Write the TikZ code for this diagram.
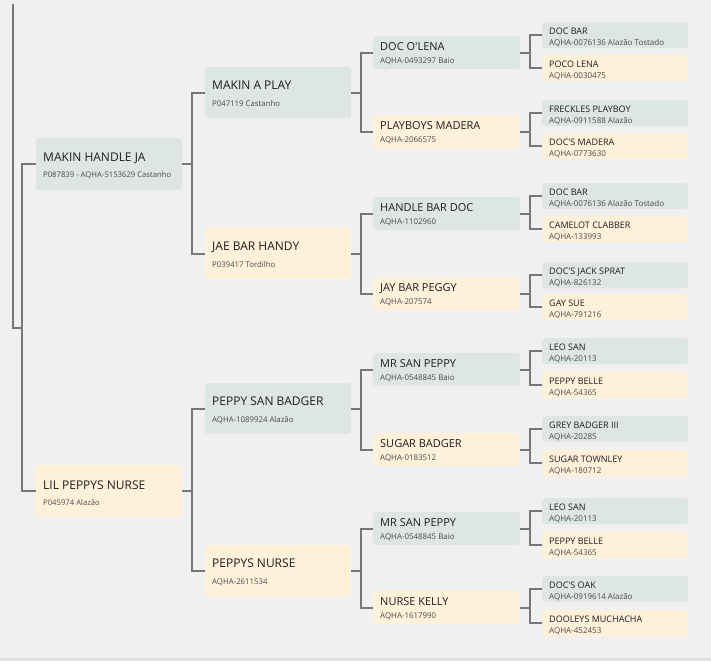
\documentclass[tikz,border=0pt]{standalone}
\usepackage{fontspec}
\setmainfont{Open Sans}
\usepackage{tikz}
\usetikzlibrary{calc}

\definecolor{sirefill}{HTML}{DDE6E0}
\definecolor{damfill}{HTML}{FFF0DA}
\definecolor{pagebg}{HTML}{F0F0F0}
\definecolor{linkgray}{HTML}{777777}
\definecolor{namegray}{HTML}{1E1E1E}
\definecolor{subgray}{HTML}{4A4A4A}

\newcommand{\horse}[2]{\namestrut#1\\{\color{subgray}\subsize\mbox{#2}}}

\begin{document}
\begin{tikzpicture}[x=1pt, y=-1pt,
        horse/.style={rectangle, rounded corners=3pt, anchor=north west, inner xsep=7pt, inner ysep=0pt, align=flush left, text=namegray},
        sire/.style={horse, fill=sirefill},
        dam/.style={horse, fill=damfill},
        gen1/.style={minimum width=146pt, minimum height=52pt, text width=132pt, font=\fontsize{12}{16}\selectfont\def\subsize{\fontsize{7.7}{9}\selectfont}\def\namestrut{\rule{0pt}{12.6pt}}},
        gen2/.style={minimum width=146pt, minimum height=51pt, text width=132pt, font=\fontsize{12}{17}\selectfont\def\subsize{\fontsize{7.8}{9}\selectfont}\def\namestrut{\rule{0pt}{11.6pt}}},
        gen3/.style={minimum width=147pt, minimum height=33pt, text width=133pt, font=\fontsize{11}{13}\selectfont\def\subsize{\fontsize{7.9}{9}\selectfont}\def\namestrut{\rule{0pt}{9.9pt}}},
        gen4/.style={minimum width=146pt, minimum height=26pt, text width=132pt, font=\fontsize{9}{11}\selectfont\def\subsize{\fontsize{8}{9}\selectfont}\def\namestrut{\rule{0pt}{10.4pt}}},
        link/.style={draw=linkgray, line width=2pt}
    ]
        \fill[pagebg] (0,0) rectangle (711,661);
        \fill[black!12] (0,658) rectangle (711,661);

        % generation 1
        \node[sire, gen1] (handleja) at (36,138) {\horse{MAKIN HANDLE JA}{P087839 - AQHA-5153629 Castanho}};
        \node[dam, gen1] (lilnurse) at (36,465) {\horse{LIL PEPPYS NURSE}{P045974 Alazão}};

        % generation 2
        \node[sire, gen2] (makinplay) at (205,67) {\horse{MAKIN A PLAY}{P047119 Castanho}};
        \node[dam, gen2] (jaebar) at (205,228) {\horse{JAE BAR HANDY}{P039417 Tordilho}};
        \node[sire, gen2] (sanbadger) at (205,383) {\horse{PEPPY SAN BADGER}{AQHA-1089924 Alazão}};
        \node[dam, gen2] (peppysnurse) at (205,545) {\horse{PEPPYS NURSE}{AQHA-2611534}};

        % generation 3
        \node[sire, gen3] (olena) at (373,36) {\horse{DOC O\textquotesingle LENA}{AQHA-0493297 Baio}};
        \node[dam, gen3] (pmadera) at (373,115) {\horse{PLAYBOYS MADERA}{AQHA-2066575}};
        \node[sire, gen3] (hbdoc) at (373,197) {\horse{HANDLE BAR DOC}{AQHA-1102960}};
        \node[dam, gen3] (jbpeggy) at (373,277) {\horse{JAY BAR PEGGY}{AQHA-207574}};
        \node[sire, gen3] (sanpeppya) at (373,353) {\horse{MR SAN PEPPY}{AQHA-0548845 Baio}};
        \node[dam, gen3] (sugarbadger) at (373,433) {\horse{SUGAR BADGER}{AQHA-0183512}};
        \node[sire, gen3] (sanpeppyb) at (373,512) {\horse{MR SAN PEPPY}{AQHA-0548845 Baio}};
        \node[dam, gen3] (nursekelly) at (373,591) {\horse{NURSE KELLY}{AQHA-1617990}};

        % generation 4
        \node[sire, gen4] (docbara) at (542,22) {\horse{DOC BAR}{AQHA-0076136 Alazão Tostado}};
        \node[dam, gen4] (pocolena) at (542,55) {\horse{POCO LENA}{AQHA-0030475}};
        \node[sire, gen4] (freckles) at (542,100) {\horse{FRECKLES PLAYBOY}{AQHA-0911588 Alazão}};
        \node[dam, gen4] (docsmadera) at (542,133) {\horse{DOC\textquotesingle S MADERA}{AQHA-0773630}};
        \node[sire, gen4] (docbarb) at (542,183) {\horse{DOC BAR}{AQHA-0076136 Alazão Tostado}};
        \node[dam, gen4] (camelot) at (542,216) {\horse{CAMELOT CLABBER}{AQHA-133993}};
        \node[sire, gen4] (jacksprat) at (542,262) {\horse{DOC\textquotesingle S JACK SPRAT}{AQHA-826132}};
        \node[dam, gen4] (gaysue) at (542,294) {\horse{GAY SUE}{AQHA-791216}};
        \node[sire, gen4] (leosana) at (542,338) {\horse{LEO SAN}{AQHA-20113}};
        \node[dam, gen4] (peppybellea) at (542,372) {\horse{PEPPY BELLE}{AQHA-54365}};
        \node[sire, gen4] (greybadger) at (542,416) {\horse{GREY BADGER III}{AQHA-20285}};
        \node[dam, gen4] (sugartownley) at (542,450) {\horse{SUGAR TOWNLEY}{AQHA-180712}};
        \node[sire, gen4] (leosanb) at (542,498) {\horse{LEO SAN}{AQHA-20113}};
        \node[dam, gen4] (peppybelleb) at (542,532) {\horse{PEPPY BELLE}{AQHA-54365}};
        \node[sire, gen4] (docsoak) at (542,576) {\horse{DOC\textquotesingle S OAK}{AQHA-0919614 Alazão}};
        \node[dam, gen4] (dooleys) at (542,610) {\horse{DOOLEYS MUCHACHA}{AQHA-452453}};

        % root line and first fork
        \coordinate (roottop) at (13,4);
        \coordinate (rootjoin) at (22,327.5);
        \draw[link] (roottop) |- (rootjoin);
        \draw[link] (handleja.west) -- ++(-14,0) |- (lilnurse.west);

        \foreach \pa/\ca/\cb in {handleja/makinplay/jaebar, lilnurse/sanbadger/peppysnurse,
                makinplay/olena/pmadera, jaebar/hbdoc/jbpeggy, sanbadger/sanpeppya/sugarbadger, peppysnurse/sanpeppyb/nursekelly,
                olena/docbara/pocolena, pmadera/freckles/docsmadera, hbdoc/docbarb/camelot, jbpeggy/jacksprat/gaysue,
                sanpeppya/leosana/peppybellea, sugarbadger/greybadger/sugartownley, sanpeppyb/leosanb/peppybelleb, nursekelly/docsoak/dooleys}
        {
            \draw[link] (\pa.east) -- ++(10,0) coordinate (fk);
            \draw[link] (\ca.west) -| (fk) |- (\cb.west);
        }
    \end{tikzpicture}
\end{document}
